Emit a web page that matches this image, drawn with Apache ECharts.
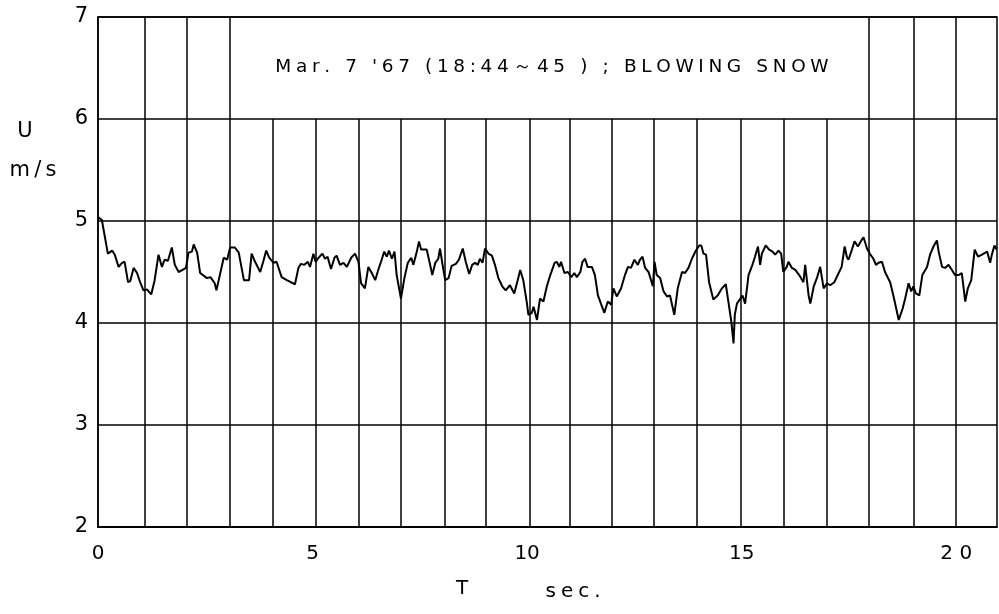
<!DOCTYPE html>
<html>
<head>
<meta charset="utf-8">
<script src="https://cdn.jsdelivr.net/npm/echarts@6/dist/echarts.min.js"></script>
<style>html,body{margin:0;padding:0;background:#fff;}#c{width:999px;height:614px;}</style>
</head>
<body>
<div id="c"></div>
<script>
// time (s)
const timeSec = [0.00,0.09,0.23,0.33,0.39,0.48,0.56,0.62,0.70,0.75,0.83,0.91,0.99,1.06,1.14,1.24,1.32,1.41,1.49,1.55,1.63,1.72,1.79,1.88,1.97,2.05,2.11,2.19,2.23,2.31,2.38,2.54,2.62,2.72,2.76,2.85,2.93,3.01,3.08,3.19,3.28,3.40,
3.52,3.58,3.66,3.78,3.85,3.92,3.99,4.03,4.09,4.16,4.28,4.40,4.59,4.67,4.73,4.81,4.89,4.94,5.02,5.07,5.14,5.23,5.29,5.35,5.43,5.51,5.56,5.64,5.72,5.80,5.90,5.99,6.07,6.13,6.22,6.30,6.38,6.46,6.53,6.61,6.67,6.73,6.78,6.85,6.91,6.96,7.06,
7.14,7.22,7.30,7.35,7.43,7.48,7.53,7.66,7.74,7.79,7.86,7.93,7.97,8.03,8.09,8.17,8.24,8.34,8.41,8.50,8.57,8.65,8.72,8.79,8.85,8.90,8.96,9.02,9.10,9.18,9.25,9.33,9.42,9.50,9.60,9.70,9.78,9.84,9.91,9.99,10.03,10.11,10.15,10.23,10.30,10.38,10.46,
10.54,10.64,10.69,10.75,10.79,10.87,10.95,11.03,11.10,11.16,11.24,11.29,11.35,11.41,11.51,11.58,11.65,11.72,11.80,11.88,11.96,12.01,12.09,12.19,12.28,12.35,12.42,12.50,12.58,12.63,12.69,12.75,12.83,12.93,12.97,13.02,13.10,13.18,13.26,13.33,13.43,13.51,13.61,13.68,13.76,13.84,13.92,14.01,
14.06,14.11,14.17,14.24,14.34,14.44,14.54,14.63,14.69,14.76,14.81,14.84,14.89,14.97,15.02,15.08,15.16,15.25,15.31,15.38,15.43,15.47,15.56,15.64,15.72,15.78,15.86,15.92,15.97,16.05,16.09,16.17,16.25,16.34,16.44,16.48,16.56,16.60,16.68,16.76,16.83,16.91,16.99,17.06,17.16,17.26,17.33,17.40,17.45,
17.49,17.57,17.63,17.71,17.79,17.84,17.92,18.00,18.07,18.13,18.19,18.27,18.34,18.46,18.54,18.66,18.75,18.81,18.89,18.95,19.00,19.06,19.14,19.21,19.32,19.39,19.47,19.55,19.59,19.67,19.74,19.82,19.90,19.97,20.05,20.13,20.21,20.27,20.35,20.43,20.51,20.60,20.72,20.79,20.83,20.89,20.94];
// wind speed U (m/s)
const speed = [5.04,5.01,4.68,4.71,4.67,4.55,4.59,4.60,4.40,4.41,4.54,4.49,4.39,4.32,4.33,4.28,4.42,4.67,4.55,4.62,4.61,4.74,4.57,4.50,4.52,4.54,4.69,4.70,4.77,4.69,4.49,4.44,4.45,4.39,4.32,4.49,4.64,4.62,4.74,4.74,4.69,4.42,
4.42,4.68,4.60,4.50,4.60,4.71,4.64,4.65,4.59,4.60,4.45,4.42,4.38,4.54,4.58,4.57,4.60,4.55,4.68,4.60,4.64,4.68,4.63,4.65,4.53,4.64,4.66,4.57,4.59,4.55,4.64,4.68,4.60,4.39,4.34,4.55,4.49,4.42,4.52,4.62,4.70,4.65,4.71,4.63,4.70,4.47,4.24,
4.44,4.59,4.64,4.57,4.70,4.80,4.72,4.72,4.57,4.47,4.59,4.63,4.73,4.57,4.42,4.44,4.56,4.58,4.62,4.73,4.60,4.48,4.57,4.59,4.57,4.63,4.59,4.73,4.68,4.66,4.57,4.44,4.36,4.32,4.37,4.29,4.42,4.52,4.42,4.21,4.08,4.10,4.16,4.03,4.24,4.21,4.36,
4.47,4.59,4.60,4.55,4.60,4.49,4.50,4.45,4.49,4.45,4.50,4.60,4.63,4.55,4.55,4.47,4.27,4.19,4.10,4.21,4.18,4.34,4.26,4.34,4.47,4.55,4.54,4.62,4.57,4.62,4.65,4.54,4.50,4.36,4.60,4.47,4.44,4.31,4.26,4.27,4.08,4.34,4.50,4.49,4.54,4.63,4.70,4.76,
4.76,4.68,4.67,4.40,4.23,4.27,4.34,4.38,4.21,4.01,3.80,4.08,4.19,4.24,4.27,4.19,4.47,4.57,4.65,4.75,4.57,4.68,4.76,4.72,4.70,4.67,4.71,4.68,4.50,4.55,4.60,4.54,4.52,4.47,4.40,4.57,4.27,4.19,4.36,4.45,4.55,4.34,4.39,4.37,4.40,4.49,4.55,4.75,4.65,
4.62,4.72,4.80,4.75,4.81,4.84,4.73,4.67,4.63,4.57,4.59,4.60,4.50,4.40,4.26,4.03,4.14,4.24,4.39,4.31,4.36,4.29,4.27,4.47,4.55,4.67,4.75,4.81,4.70,4.55,4.54,4.57,4.52,4.47,4.47,4.49,4.21,4.34,4.42,4.72,4.65,4.67,4.70,4.59,4.67,4.76,4.72];
// chart-paper vertical rulings (s)
const rulingsX = [1.10,2.07,3.08,4.08,5.08,6.08,7.06,8.07,9.04,10.05,11.00,11.98,12.96,13.96,14.99,15.97,16.99,17.97,19.00,20.00];
const xTicks = [0,5,10,15,20];
const yTicks = [2,3,4,5,6,7];
const titleText = "Mar. 7 '67 (18:44～45 ) ; BLOWING SNOW";

const boxLeft = 3.08, boxRight = 17.97, boxBottom = 6;
const yMin = 2, yMax = 7, xMax = 20.95;

const points = timeSec.map((t, i) => [t, speed[i]]);
const ruleLines = rulingsX.map(x => {
  const inside = x > boxLeft + 0.01 && x < boxRight - 0.01;
  return [{coord: [x, yMin]}, {coord: [x, inside ? boxBottom : yMax]}];
});
const spaced = (s, sp) => s.split('').join(sp || '\u2005');

const chart = echarts.init(document.getElementById('c'), null, {renderer: 'canvas'});
chart.setOption({
  animation: false,
  backgroundColor: '#fff',
  grid: {left: 98, right: 2, top: 17, bottom: 87, show: true, borderColor: '#000', borderWidth: 1.5},
  xAxis: {
    type: 'value', min: 0, max: xMax, interval: 5,
    axisLine: {show: true, lineStyle: {color: '#000', width: 1.5}},
    axisTick: {show: false},
    splitLine: {show: false},
    axisLabel: {
      color: '#000', fontSize: 20, fontFamily: 'DejaVu Sans', margin: 17,
      showMaxLabel: false,
      formatter: v => xTicks.includes(v) ? (v === 20 ? '2 0' : String(v)) : ''
    }
  },
  yAxis: {
    type: 'value', min: yMin, max: yMax, interval: 1,
    axisLine: {show: true, lineStyle: {color: '#000', width: 1.5}},
    axisTick: {show: false},
    splitLine: {show: true, lineStyle: {color: '#000', width: 1.5}},
    axisLabel: {color: '#000', fontSize: 21, fontFamily: 'DejaVu Sans', margin: 10,
      formatter: v => yTicks.includes(v) ? String(v) : ''}
  },
  series: [{
    type: 'line',
    data: points,
    showSymbol: false,
    symbol: 'none',
    lineStyle: {color: '#000', width: 2},
    z: 5,
    markLine: {
      silent: true,
      symbol: ['none', 'none'],
      label: {show: false},
      lineStyle: {color: '#000', width: 1.5, type: 'solid'},
      data: ruleLines,
      z: 3
    }
  }],
  graphic: [
    {type: 'text', style: {text: spaced(titleText), x: 552, y: 67, font: '18.5px "DejaVu Sans"', fill: '#000', align: 'center', verticalAlign: 'middle'}},
    {type: 'text', style: {text: 'U', x: 25, y: 132, font: '21px "DejaVu Sans"', fill: '#000', align: 'center', verticalAlign: 'middle'}},
    {type: 'text', style: {text: spaced('m/s', '\u2009'), x: 33, y: 171, font: '21px "DejaVu Sans"', fill: '#000', align: 'center', verticalAlign: 'middle'}},
    {type: 'text', style: {text: 'T', x: 462, y: 589, font: '20px "DejaVu Sans"', fill: '#000', align: 'center', verticalAlign: 'middle'}},
    {type: 'text', style: {text: spaced('sec.'), x: 573, y: 592, font: '20px "DejaVu Sans"', fill: '#000', align: 'center', verticalAlign: 'middle'}}
  ]
});
</script>
</body>
</html>
